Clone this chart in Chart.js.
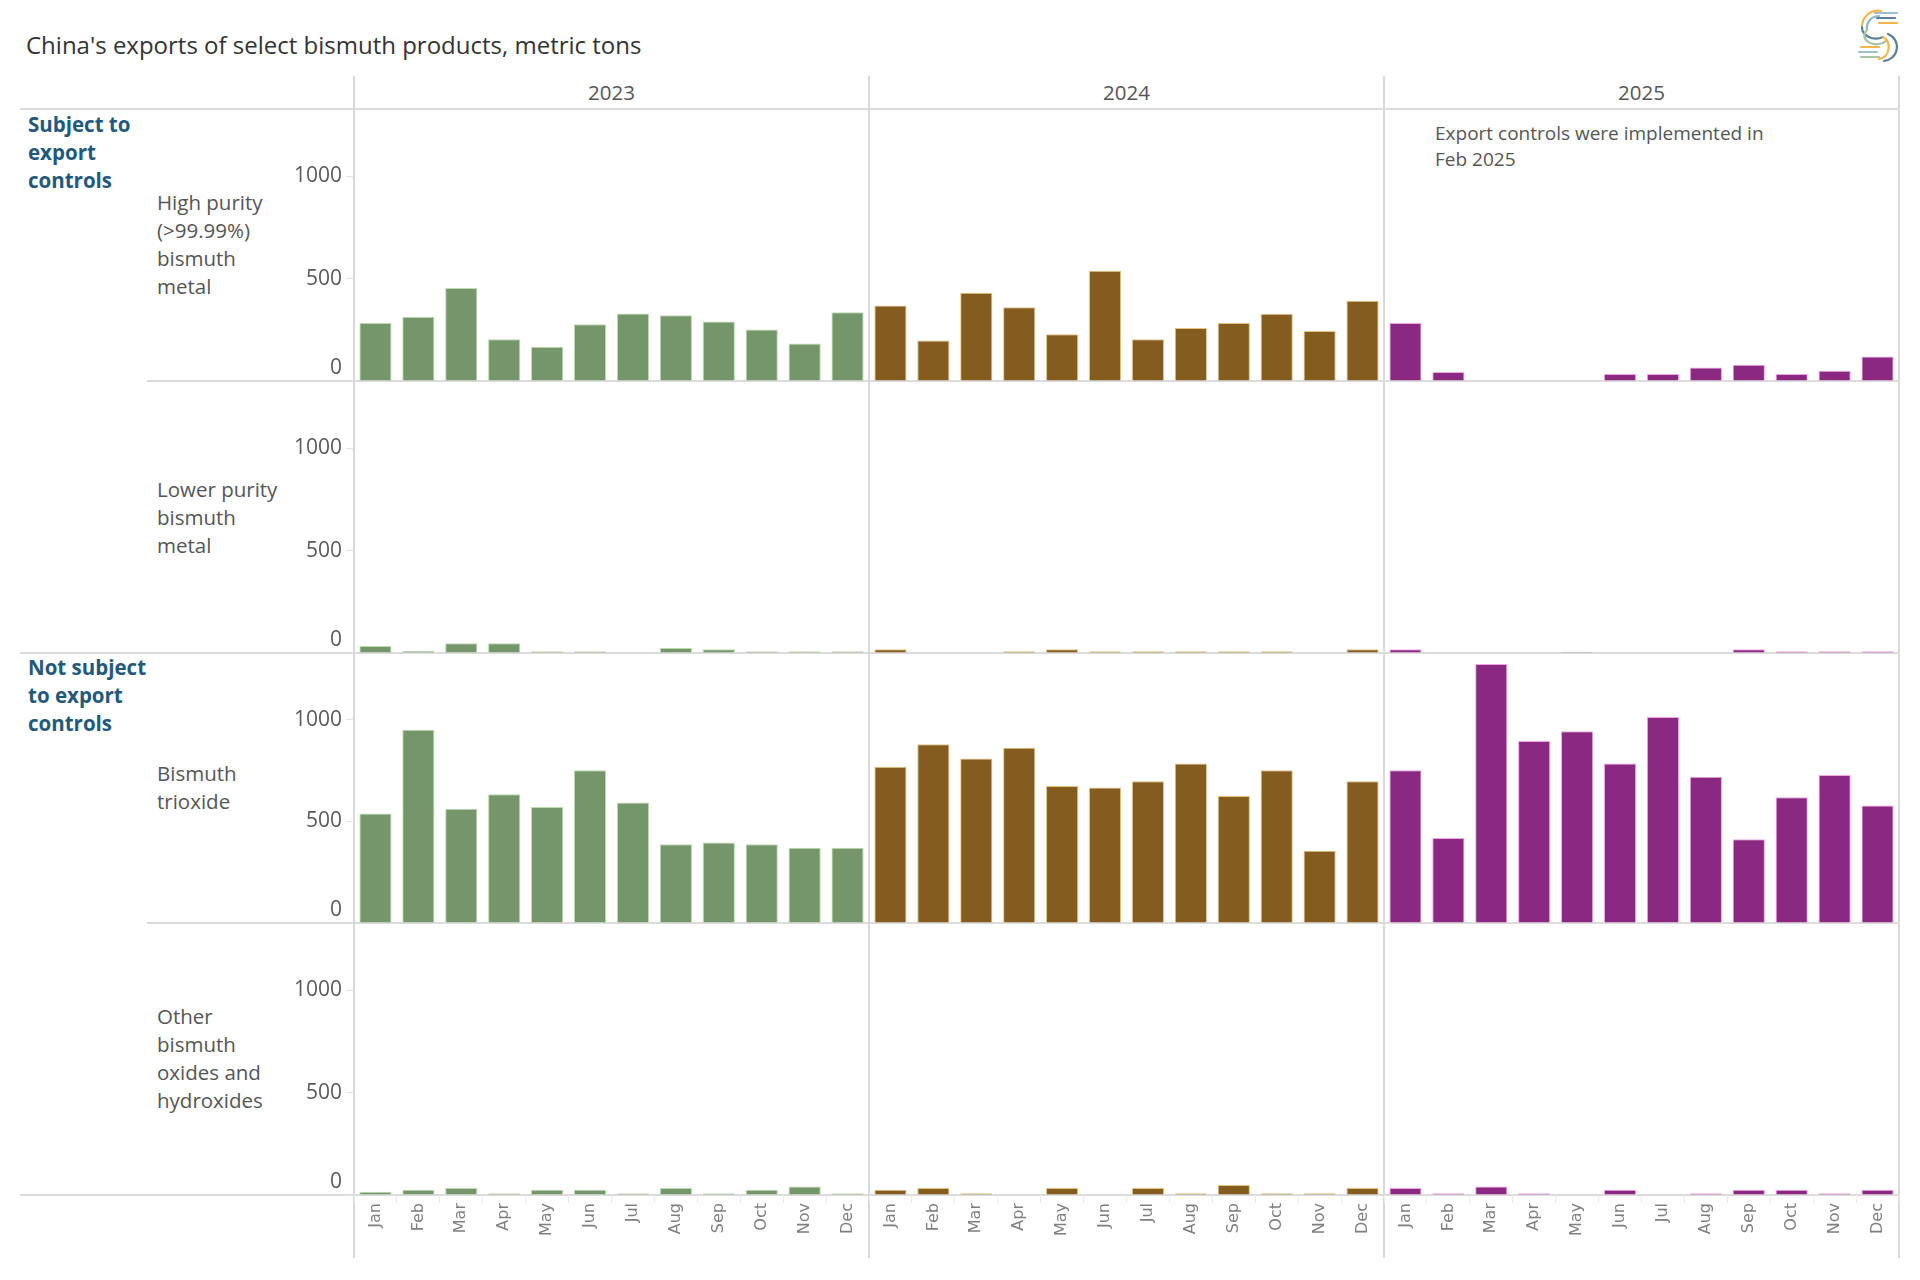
<!DOCTYPE html>
<html>
<head>
<meta charset="utf-8">
<title>China's exports of select bismuth products</title>
<script src="https://cdn.jsdelivr.net/npm/chart.js@4.4.1/dist/chart.umd.min.js"></script>
<style>
  html, body { margin: 0; padding: 0; background: #fff; }
  #page { position: relative; width: 1920px; height: 1280px; overflow: hidden; font-family: 'Open Sans', sans-serif; color: #555; }
  .hline { position: absolute; height: 2px; background: #dcdcdc; }
  .vline { position: absolute; width: 2px; background: #d9d9d9; top: 76px; height: 1182px; }
  canvas { position: absolute; left: 0; }
  .txt { position: absolute; white-space: nowrap; }
  .title { left: 26px; top: 30px; font-size: 24px; line-height: 30px; color: #333; }
  .year { top: 79px; width: 515px; text-align: center; font-size: 20.5px; line-height: 26px; color: #555; }
  .group { left: 28px; font-size: 20.5px; line-height: 28px; font-weight: 700; color: #22597a; }
  .rowlab { left: 157px; font-size: 20.5px; line-height: 28px; color: #555; }
  .note { left: 1435px; top: 120px; font-size: 19px; line-height: 26px; color: #555; }
  .logo { position: absolute; left: 1853px; top: 6px; }
</style>
</head>
<body>
<div id="page">
  <div class="txt title">China's exports of select bismuth products, metric tons</div>

  <svg class="logo" width="48" height="58" viewBox="0 0 48 58">
    <g fill="none" stroke-width="2.2" stroke-linecap="round">
      <path d="M28 5 A16 16 0 0 0 9 21" stroke="#f2b54a"/>
      <path d="M26 10 A12 12 0 0 0 14 24" stroke="#8fb6c9"/>
      <path d="M9 21 A14 11 0 0 0 30 31" stroke="#5d7f9a"/>
      <path d="M14 24 A11 8 0 0 0 33 35" stroke="#a8c4a0"/>
      <path d="M30 31 A12 12 0 0 1 26 53" stroke="#f2b54a"/>
      <path d="M35 28 A14 14 0 0 1 31 55" stroke="#5d7f9a"/>
      <line x1="22" y1="7" x2="44" y2="7" stroke="#9fbfcf"/>
      <line x1="24" y1="12" x2="42" y2="12" stroke="#5d7f9a"/>
      <line x1="26" y1="17" x2="44" y2="17" stroke="#f2b54a"/>
      <line x1="8" y1="41" x2="26" y2="41" stroke="#f2b54a"/>
      <line x1="6" y1="46" x2="24" y2="46" stroke="#9fbfcf"/>
      <line x1="8" y1="51" x2="26" y2="51" stroke="#a8c4a0"/>
    </g>
  </svg>

  <div class="vline" style="left:353px"></div>
  <div class="vline" style="left:868px"></div>
  <div class="vline" style="left:1383px"></div>
  <div class="vline" style="left:1898px"></div>

  <div class="hline" style="top:108px; left:20px; width:1880px"></div>
  <div class="hline" style="top:380px; left:147px; width:1753px"></div>
  <div class="hline" style="top:652px; left:20px; width:1880px"></div>
  <div class="hline" style="top:922px; left:147px; width:1753px"></div>
  <div class="hline" style="top:1194px; left:20px; width:1880px"></div>

  <div id="years"></div>

  <div class="txt group" style="top:110px">Subject to<br>export<br>controls</div>
  <div class="txt group" style="top:653px">Not subject<br>to export<br>controls</div>

  <div class="txt rowlab" style="top:188px">High purity<br>(&gt;99.99%)<br>bismuth<br>metal</div>
  <div class="txt rowlab" style="top:475px">Lower purity<br>bismuth<br>metal</div>
  <div class="txt rowlab" style="top:759px">Bismuth<br>trioxide</div>
  <div class="txt rowlab" style="top:1002px">Other<br>bismuth<br>oxides and<br>hydroxides</div>

  <div class="txt note">Export controls were implemented in<br>Feb 2025</div>

  <canvas id="row-high" width="1920" height="272" style="top:109px"></canvas>
  <canvas id="row-lower" width="1920" height="272" style="top:381px"></canvas>
  <canvas id="row-trioxide" width="1920" height="270" style="top:653px"></canvas>
  <canvas id="row-other" width="1920" height="335" style="top:923px"></canvas>
</div>

<script>
const months = ['Jan', 'Feb', 'Mar', 'Apr', 'May', 'Jun', 'Jul', 'Aug', 'Sep', 'Oct', 'Nov', 'Dec'];
const years = ['2023', '2024', '2025'];
const yearColors = ['#74966a', '#845c1f', '#8b2882'];
const yearEdges  = ['#bcdcae', '#e6c47e', '#eea6e6'];
const yTicks = [0, 500, 1000];
const yMax = 1330;

// metric tons
const highPurity2023 = [283, 314, 455, 204, 167, 277, 330, 322, 291, 252, 183, 336];
const highPurity2024 = [369, 198, 431, 361, 228, 539, 204, 259, 283, 329, 244, 392];
const highPurity2025 = [283, 44, 0, 0, 0, 34, 34, 66, 79, 34, 50, 120];

const lowerPurity2023 = [34, 10, 48, 48, 8, 8, 0, 25, 18, 8, 8, 8];
const lowerPurity2024 = [18, 0, 0, 8, 18, 8, 8, 8, 8, 8, 0, 18];
const lowerPurity2025 = [18, 0, 0, 0, 6, 0, 0, 0, 18, 8, 8, 8];

const trioxide2023 = [540, 952, 563, 634, 571, 752, 594, 388, 397, 388, 371, 371];
const trioxide2024 = [770, 880, 810, 863, 675, 667, 698, 786, 625, 752, 356, 698];
const trioxide2025 = [752, 419, 1276, 896, 944, 786, 1015, 721, 412, 619, 729, 579];

const otherOxides2023 = [16, 26, 34, 8, 26, 26, 8, 34, 8, 26, 41, 8];
const otherOxides2024 = [26, 34, 8, 0, 34, 0, 34, 8, 49, 8, 8, 34];
const otherOxides2025 = [34, 8, 41, 8, 0, 26, 0, 8, 26, 26, 8, 26];

// 36 slots: 12 months for each year
const xLabels = years.flatMap(() => months);
const barColors = yearColors.flatMap(c => months.map(() => c));
const barEdges  = yearEdges.flatMap(c => months.map(() => c));

// year headers
const yearsBox = document.getElementById('years');
years.forEach((y, i) => {
  const d = document.createElement('div');
  d.className = 'txt year';
  d.style.left = (354 + i * 515) + 'px';
  d.textContent = y;
  yearsBox.appendChild(d);
});

// Tableau lifts the "0" label above the baseline
const zeroLabel = {
  id: 'zeroLabel',
  afterDraw(chart) {
    const y = chart.scales.y;
    const ctx = chart.ctx;
    ctx.save();
    ctx.font = '21px "Open Sans"';
    ctx.fillStyle = '#595959';
    ctx.textAlign = 'right';
    ctx.textBaseline = 'middle';
    ctx.fillText('0', y.right - 12, y.getPixelForValue(0) - 13);
    ctx.restore();
  }
};

function makeRow(id, values, showX) {
  return new Chart(document.getElementById(id), {
    type: 'bar',
    data: {
      labels: xLabels,
      datasets: [{
        data: values,
        backgroundColor: barColors,
        borderColor: barEdges,
        borderWidth: { top: 1, left: 1, right: 1, bottom: 0 },
        borderSkipped: 'bottom',
        barPercentage: 0.75,
        categoryPercentage: 1.0,
      }]
    },
    options: {
      responsive: false,
      animation: false,
      layout: { padding: { left: 0, right: 21, top: 0, bottom: 0 } },
      plugins: { legend: { display: false }, tooltip: { enabled: false } },
      scales: {
        x: {
          display: showX,
          grid: { offset: true, drawOnChartArea: false, tickLength: 8, color: '#ececec' },
          border: { display: false },
          ticks: {
            autoSkip: false, maxRotation: 90, minRotation: 90, padding: 0,
            color: '#7f7f7f', font: { family: 'DejaVu Sans', size: 16 },
          },
          afterFit: s => {
            if (!showX) return;
            s.height = 63; s.paddingLeft = 0; s.paddingRight = 0;
          },
        },
        y: {
          min: 0, max: yMax,
          afterBuildTicks: s => { s.ticks = yTicks.map(v => ({ value: v })); },
          afterFit: s => { s.width = 354; s.paddingTop = 0; s.paddingBottom = 0; },
          grid: { drawOnChartArea: false, tickLength: 8, color: '#e3e3e3' },
          border: { display: false },
          ticks: {
            padding: 4, color: '#595959',
            font: { family: 'Open Sans', size: 21 },
            callback: v => (v === 0 ? '' : v),
          },
        },
      },
    },
    plugins: [zeroLabel],
  });
}

makeRow('row-high', [...highPurity2023, ...highPurity2024, ...highPurity2025], false);
makeRow('row-lower', [...lowerPurity2023, ...lowerPurity2024, ...lowerPurity2025], false);
makeRow('row-trioxide', [...trioxide2023, ...trioxide2024, ...trioxide2025], false);
makeRow('row-other', [...otherOxides2023, ...otherOxides2024, ...otherOxides2025], true);
</script>
</body>
</html>
